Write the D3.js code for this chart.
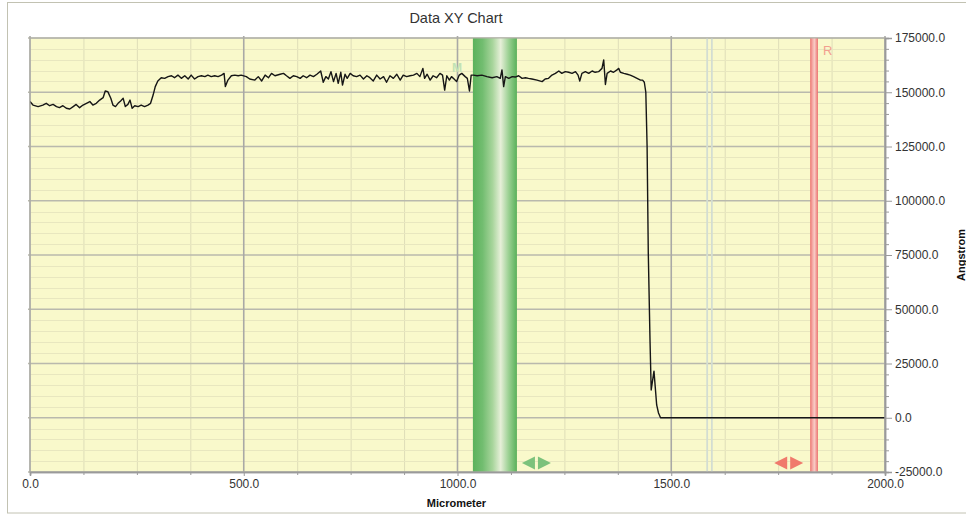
<!DOCTYPE html>
<html><head><meta charset="utf-8">
<script src="https://cdn.jsdelivr.net/npm/d3@7"></script>
<style>
html,body{margin:0;padding:0;background:#fff;}
svg{display:block;font-family:"Liberation Sans",Arial,Helvetica,sans-serif;}
</style></head><body>
<svg id="chart" width="966" height="515"></svg>
<script>
// Profile scan: lateral position (micrometer) and step height (angstrom)
const positionUm = [
  0, 7, 19, 30, 38, 46, 54, 62, 69, 77, 85, 93, 101, 108, 116, 124, 132, 140, 147, 155,
  163, 171, 176, 182, 189, 194, 200, 206, 212, 218, 223, 229, 234, 239, 245, 253, 260, 268, 276, 282,
  288, 293, 299, 307, 315, 323, 331, 338, 346, 354, 362, 370, 377, 385, 393, 401, 409, 416, 424, 432,
  440, 448, 454, 457, 463, 471, 479, 487, 494, 506, 514, 526, 534, 542, 550, 558, 565, 573, 585, 593,
  600, 608, 616, 624, 632, 639, 647, 655, 663, 671, 680, 686, 692, 698, 704, 710, 716, 721, 727, 731,
  737, 742, 749, 756, 764, 772, 780, 788, 795, 803, 811, 819, 827, 834, 842, 850, 858, 866, 873, 881,
  889, 897, 905, 912, 919, 923, 929, 936, 943, 951, 959, 965, 970, 975, 981, 986, 992, 998, 1004, 1010,
  1018, 1023, 1028, 1032, 1037, 1046, 1057, 1069, 1081, 1092, 1100, 1104, 1108, 1112, 1120, 1128, 1135, 1143, 1151, 1159,
  1166, 1174, 1186, 1198, 1205, 1213, 1221, 1229, 1237, 1244, 1252, 1260, 1268, 1276, 1282, 1286, 1291, 1299, 1307, 1315,
  1322, 1330, 1338, 1342, 1346, 1350, 1358, 1365, 1373, 1377, 1381, 1389, 1397, 1404, 1412, 1420, 1428, 1433, 1437,
  1440.5, 1443.5, 1446.3, 1450.3, 1453.1, 1459.6, 1465.9, 1470.2, 1474.9, 2000
];
const heightA = [
  145700, 144100, 143400, 144100, 144900, 143800, 144400, 143400, 142900, 143800, 142600, 142300, 143400, 144400, 142900, 144100, 144900, 145700, 144100, 144900,
  146400, 147500, 150600, 150300, 147200, 144100, 143400, 144900, 146000, 147200, 143400, 144400, 146400, 142600, 143800, 143400, 144100, 143400, 144100, 144900,
  148700, 152600, 155200, 156700, 156400, 157200, 157600, 156700, 157900, 156400, 157600, 156100, 157900, 156100, 157200, 157600, 157200, 157900, 157200, 157600,
  157200, 157900, 158700, 152600, 155600, 157600, 157900, 157600, 157900, 157200, 156100, 155600, 157200, 155200, 157900, 156700, 158700, 157600, 158300, 158700,
  157600, 156400, 157600, 157200, 156400, 157600, 156700, 157900, 157200, 158300, 159800, 154600, 157200, 156100, 159500, 154900, 158700, 154100, 159200, 153300,
  158300, 156400, 158700, 157600, 157200, 157900, 156100, 157600, 156700, 155200, 157900, 156100, 157200, 154600, 157600, 156400, 158300, 155600, 157900, 157200,
  157600, 157900, 158700, 157200, 161000, 156400, 158300, 155600, 157600, 156700, 158700, 157900, 151000, 157600, 155600, 157200, 156100, 154900, 157900, 158700,
  157200, 156400, 150600, 157900, 157900, 157600, 157900, 157200, 156700, 157200, 156400, 160300, 152600, 157200, 156400, 157200, 157000, 157600, 156400, 156700,
  156400, 156100, 155600, 154900, 156100, 156400, 157900, 158700, 159800, 158700, 159500, 159200, 158700, 159500, 157900, 155200, 158700, 159500, 158700, 159800,
  159200, 159500, 161000, 164900, 153600, 158700, 159800, 159200, 160300, 161000, 159200, 158700, 158300, 157900, 157200, 156400, 155600, 155600, 154600,
  150000, 125000, 75900, 35800, 12800, 21500, 5900, 2200, 0, 0
];

const xTickValues = [0, 500, 1000, 1500, 2000];
const yTickValues = [-25000, 0, 25000, 50000, 75000, 100000, 125000, 150000, 175000];
const cursorM = [1036, 1139];   // green measurement band
const cursorR = [1825, 1843];   // red reference band
const guideLines = [1584, 1595];

const svg = d3.select("#chart");
const plot = {left: 30, right: 885, top: 38, bottom: 472};

const x = d3.scaleLinear().domain([0, 2000]).range([plot.left, plot.right]);
const y = d3.scaleLinear().domain([-25000, 175000]).range([plot.bottom, plot.top]);

// outer panel
svg.append("rect").attr("x", 7.5).attr("y", 2.5).attr("width", 975).attr("height", 510.5)
  .attr("fill", "#fff").attr("stroke", "#c2c2b2").attr("stroke-width", 1);

svg.append("text").attr("x", 456).attr("y", 23).attr("text-anchor", "middle")
  .attr("font-size", "14.5px").attr("fill", "#333").text("Data XY Chart");

const defs = svg.append("defs");
defs.append("clipPath").attr("id", "plotClip").append("rect")
  .attr("x", plot.left).attr("y", plot.top)
  .attr("width", plot.right - plot.left).attr("height", plot.bottom - plot.top);

const gM = defs.append("linearGradient").attr("id", "gradM");
[[0, "#5bb25b"], [0.22, "#72bd70"], [0.45, "#a8d59c"], [0.63, "#e6efd8"], [0.82, "#98cf90"], [1, "#5ab15a"]]
  .forEach(([o, c]) => gM.append("stop").attr("offset", o).attr("stop-color", c));
const gR = defs.append("linearGradient").attr("id", "gradR");
[[0, "#ec6e6c"], [0.25, "#f3a39e"], [0.55, "#f8cbc4"], [0.8, "#f29c98"], [1, "#ea6866"]]
  .forEach(([o, c]) => gR.append("stop").attr("offset", o).attr("stop-color", c));

// plot background
svg.append("rect").attr("x", plot.left).attr("y", plot.top)
  .attr("width", plot.right - plot.left).attr("height", plot.bottom - plot.top)
  .attr("fill", "#f9f9cb");

const grid = svg.append("g");
const minorX = d3.range(0, 2001, 125).filter(v => v % 500 !== 0);
const minorY = d3.range(-25000, 175001, 5000).filter(v => v % 25000 !== 0);

grid.selectAll(".mx").data(minorX).join("line")
  .attr("x1", d => x(d) + 0.5).attr("x2", d => x(d) + 0.5)
  .attr("y1", plot.top).attr("y2", plot.bottom)
  .attr("stroke", "#deddb8").attr("stroke-width", 1);
grid.selectAll(".my").data(minorY).join("line")
  .attr("x1", plot.left).attr("x2", plot.right)
  .attr("y1", d => Math.round(y(d)) + 0.5).attr("y2", d => Math.round(y(d)) + 0.5)
  .attr("stroke", "#e8e7bf").attr("stroke-width", 1);
grid.selectAll(".gy").data(yTickValues).join("line")
  .attr("x1", plot.left - 2).attr("x2", plot.right)
  .attr("y1", d => y(d)).attr("y2", d => y(d))
  .attr("stroke", "#b9b9ad").attr("stroke-width", 1.3);
grid.selectAll(".gx").data(xTickValues).join("line")
  .attr("x1", d => x(d)).attr("x2", d => x(d))
  .attr("y1", plot.top - 2).attr("y2", plot.bottom)
  .attr("stroke", "#a9a9a6").attr("stroke-width", 1.6);

// guide lines
svg.selectAll(".guide").data(guideLines).join("line")
  .attr("x1", d => x(d)).attr("x2", d => x(d))
  .attr("y1", plot.top).attr("y2", plot.bottom)
  .attr("stroke", "#d3ddd2").attr("stroke-width", 1.8);

// cursor bands
svg.append("rect").attr("x", x(cursorM[0])).attr("y", plot.top)
  .attr("width", x(cursorM[1]) - x(cursorM[0])).attr("height", plot.bottom - plot.top)
  .attr("fill", "url(#gradM)");
svg.append("rect").attr("x", x(cursorR[0])).attr("y", plot.top)
  .attr("width", x(cursorR[1]) - x(cursorR[0])).attr("height", plot.bottom - plot.top)
  .attr("fill", "url(#gradR)");

svg.append("text").attr("x", x(cursorM[0]) - 16).attr("y", 72).attr("text-anchor", "middle")
  .attr("font-size", "12px").attr("font-weight", "bold").attr("fill", "#c2e2b4").text("M");
svg.append("text").attr("x", x(cursorR[1]) + 5).attr("y", 55)
  .attr("font-size", "13px").attr("fill", "#f2a08f").text("R");

// drag handles
function arrows(x0, color) {
  const yc = 463, h = 6.5;
  svg.append("polygon").attr("points", [[x0, yc], [x0 + 13, yc - h], [x0 + 13, yc + h]].join(" ")).attr("fill", color);
  svg.append("polygon").attr("points", [[x0 + 16, yc - h], [x0 + 29, yc], [x0 + 16, yc + h]].join(" ")).attr("fill", color);
}
arrows(x(cursorM[1]) + 5, "#7cc27c");
arrows(x(cursorR[0]) - 36, "#f07a6c");

// profile line
const pts = positionUm.map((p, i) => [p, heightA[i]]);
svg.append("path").datum(pts)
  .attr("clip-path", "url(#plotClip)")
  .attr("fill", "none").attr("stroke", "#161616").attr("stroke-width", 1.4)
  .attr("stroke-linejoin", "round")
  .attr("d", d3.line().x(d => x(d[0])).y(d => y(d[1])));

// plot frame
svg.append("rect").attr("x", plot.left).attr("y", plot.top)
  .attr("width", plot.right - plot.left).attr("height", plot.bottom - plot.top)
  .attr("fill", "none").attr("stroke", "#b0b0a8").attr("stroke-width", 1);

const fmt = d3.formatLocale({decimal: ".", thousands: "", grouping: [3], currency: ["", ""], minus: "-"}).format(".1f");
function styleAxis(g) {
  g.attr("font-size", 12).attr("font-family", "'Liberation Sans', Arial, sans-serif");
  g.select(".domain").attr("stroke", "#9a9a9a").attr("stroke-width", 1.5);
  g.selectAll(".tick line").attr("stroke", "#9a9a9a");
  g.selectAll("text").attr("fill", "#333");
}

const xMinorAxis = svg.append("g").attr("transform", `translate(0,${plot.bottom})`)
  .call(d3.axisBottom(x).tickValues(minorX).tickSize(3).tickFormat(""));
styleAxis(xMinorAxis);
const xAxis = svg.append("g").attr("transform", `translate(0,${plot.bottom})`)
  .call(d3.axisBottom(x).tickValues(xTickValues).tickSize(4).tickPadding(3).tickFormat(fmt));
styleAxis(xAxis);

const yMinorAxis = svg.append("g").attr("transform", `translate(${plot.right},0)`)
  .call(d3.axisRight(y).tickValues(minorY).tickSize(4).tickFormat(""));
styleAxis(yMinorAxis);
const yAxis = svg.append("g").attr("transform", `translate(${plot.right},0)`)
  .call(d3.axisRight(y).tickValues(yTickValues).tickSize(7).tickPadding(3).tickFormat(fmt));
styleAxis(yAxis);

svg.append("text").attr("x", 456.5).attr("y", 507).attr("text-anchor", "middle")
  .attr("font-size", "11px").attr("font-weight", "bold").attr("fill", "#111").text("Micrometer");
svg.append("text").attr("transform", "translate(965,255) rotate(-90)").attr("text-anchor", "middle")
  .attr("font-size", "11px").attr("font-weight", "bold").attr("fill", "#111").text("Angstrom");
</script>
</body></html>
